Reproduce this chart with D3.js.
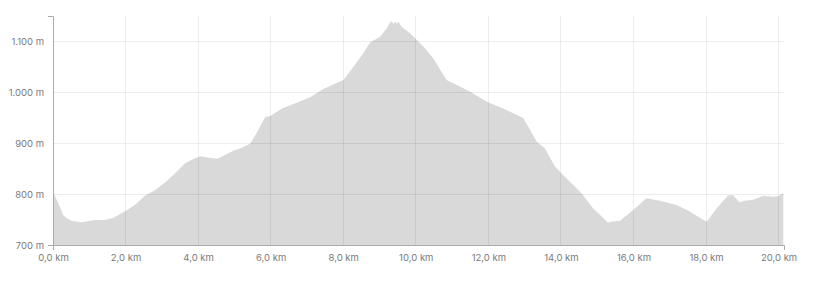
<!DOCTYPE html>
<html>
<head>
<meta charset="utf-8">
<script src="https://cdn.jsdelivr.net/npm/d3@7"></script>
<style>
  body { margin: 0; background: #fff; }
  .axis text { font-family: Inter, "Liberation Sans", sans-serif; font-size: 9.5px; fill: #7a7a7a; }
  .axis path, .axis line { stroke: #ababab; }
</style>
</head>
<body>
<div id="container"></div>
<script>
// distance along route (km)
const distance = [0, 0.1, 0.19, 0.28, 0.37, 0.51, 0.79, 1.16, 1.43, 1.66, 1.85, 2.07, 2.3, 2.53, 2.81, 3.09, 3.36, 3.64, 3.91, 4.08,
  4.3, 4.54, 4.98, 5.2, 5.44, 5.6, 5.72, 5.85, 5.99, 6.31, 6.72, 7.09, 7.45, 7.91, 8.01, 8.28, 8.56, 8.74, 9.02,
  9.2, 9.29, 9.34, 9.38, 9.43, 9.48, 9.52, 9.61, 9.84, 10.01, 10.21, 10.48, 10.85, 11.13, 11.5, 11.96, 12.41,
  12.96, 13.15, 13.33, 13.56, 13.84, 14.16, 14.57, 14.89, 15.17, 15.3, 15.38, 15.63, 15.99, 16.36, 16.73,
  17.19, 17.56, 17.84, 18.02, 18.29, 18.61, 18.75, 18.92, 19.07, 19.3, 19.58, 19.85, 19.99, 20.13];
// elevation (m)
const elevation = [805, 789, 775, 759, 753, 748, 745, 749, 749, 753, 761, 770, 781, 797, 808, 823, 841, 861, 871, 875,
  872, 870, 886, 891, 900, 919, 935, 952, 954, 969, 980, 991, 1007, 1022, 1025, 1051, 1078, 1099, 1110,
  1127, 1138, 1140, 1135, 1140, 1135, 1140, 1130, 1117, 1105, 1091, 1068, 1025, 1015, 1002, 982, 969,
  950, 927, 904, 890, 854, 831, 802, 772, 753, 744, 746, 748, 769, 792, 787,
  779, 766, 753, 746, 772, 798, 798, 784, 787, 789, 797, 795, 796, 802];

const xTicks = [0, 2, 4, 6, 8, 10, 12, 14, 16, 18, 20];
const yTicks = [700, 800, 900, 1000, 1100];

const WIDTH = 816;
const HEIGHT = 286;

const data = distance.map((d, i) => ({ km: d, ele: elevation[i] }));

let x = d3.scaleLinear().domain([0, 20.15]).range([53, 784]);
let y = d3.scaleLinear().domain([700, 1151]).range([245, 16]);

let svg = d3.select('#container').append('svg').attr('width', WIDTH).attr('height', HEIGHT);

let area = d3.area().x((d) => x(d.km)).y0(y(700)).y1((d) => y(d.ele));

svg.append('path').datum(data).attr('d', area).attr('fill', '#d9d9d9');

// grid, on top of the profile
let grid = svg.append('g').attr('stroke', '#000').attr('stroke-opacity', 0.07).attr('shape-rendering', 'crispEdges');

grid.selectAll('.gx').data(xTicks.slice(1)).join('line')
  .attr('x1', (d) => x(d)).attr('x2', (d) => x(d))
  .attr('y1', y.range()[1]).attr('y2', y(700));

grid.selectAll('.gy').data(yTicks.slice(1)).join('line')
  .attr('x1', x(0)).attr('x2', x.range()[1])
  .attr('y1', (d) => y(d)).attr('y2', (d) => y(d));

let fmtKm = (d) => d3.format('.1f')(d).replace('.', ',') + ' km';
let fmtM = (d) => d3.format(',')(d).replace(',', '.') + ' m';

svg.append('g').attr('class', 'axis')
  .attr('transform', `translate(0,${y(700)})`)
  .call(d3.axisBottom(x).tickValues(xTicks).tickFormat(fmtKm).tickSizeInner(0).tickSizeOuter(5).tickPadding(9));

svg.append('g').attr('class', 'axis')
  .attr('transform', `translate(${x(0)},0)`)
  .call(d3.axisLeft(y).tickValues(yTicks).tickFormat(fmtM).tickSizeInner(0).tickSizeOuter(5).tickPadding(9));

svg.selectAll('.axis .domain').attr('stroke', '#ababab');
</script>
</body>
</html>
